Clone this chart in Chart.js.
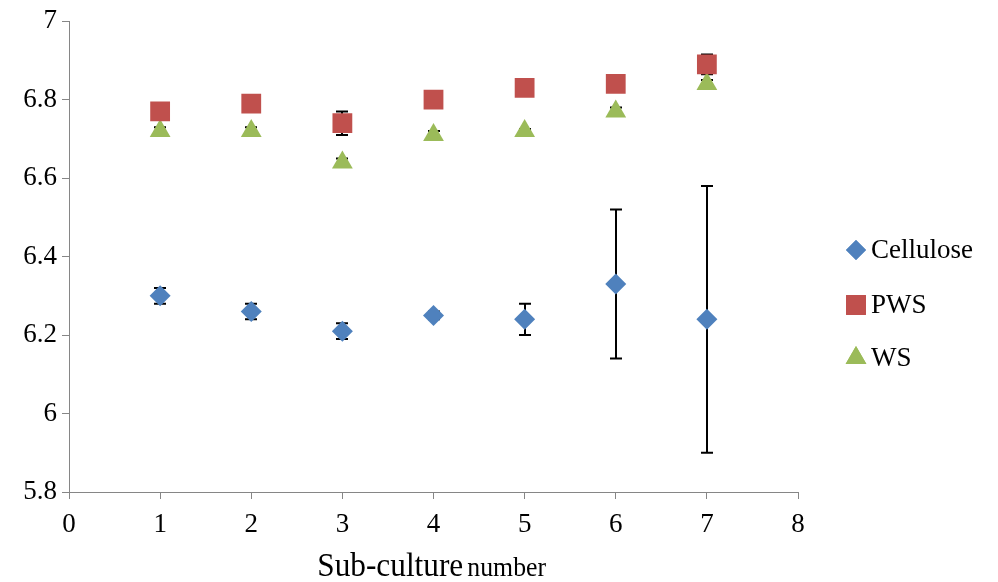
<!DOCTYPE html>
<html>
<head>
<meta charset="utf-8">
<title>pH by sub-culture</title>
<script src="https://cdn.jsdelivr.net/npm/chart.js"></script>
<style>
  html, body { margin: 0; padding: 0; background: #fff; }
  #wrap { width: 998px; height: 582px; }
</style>
</head>
<body>
<div id="wrap"><canvas id="c" width="998" height="582"></canvas></div>
<script>
// Sub-culture numbers (x) and mean values with their error half-widths
const subcultures = [1, 2, 3, 4, 5, 6, 7];
const cellulose = [6.30, 6.26, 6.21, 6.25, 6.24, 6.33, 6.24];
const celluloseErr = [0.02, 0.02, 0.02, 0.01, 0.04, 0.19, 0.34];
const pws = [6.77, 6.79, 6.74, 6.80, 6.83, 6.84, 6.89];
const pwsErr = [0.01, 0.01, 0.03, 0.01, 0.01, 0.01, 0.025];
const ws = [6.72, 6.72, 6.64, 6.71, 6.72, 6.77, 6.84];
const wsErr = [0.01, 0.01, 0.01, 0.01, 0.005, 0.01, 0.01];
const seriesNames = ['Cellulose', 'PWS', 'WS'];
const xTickValues = [0, 1, 2, 3, 4, 5, 6, 7, 8];
const yTickValues = [5.8, 6, 6.2, 6.4, 6.6, 6.8, 7];
const xTitleMain = 'Sub-culture';
const xTitleSub = 'number';

const AXIS_GREY = '#868686';
const SERIF = '"Liberation Serif", "Times New Roman", serif';

function points(ys, errs) {
  return subcultures.map((x, i) => ({ x: x, y: ys[i], err: errs[i] }));
}

// vertical error bars with caps, drawn underneath the markers
const errorBars = {
  id: 'errorBars',
  beforeDatasetsDraw(chart) {
    const ctx = chart.ctx;
    const xs = chart.scales.x, ys = chart.scales.y;
    ctx.save();
    ctx.strokeStyle = '#000';
    ctx.lineWidth = 2;
    chart.data.datasets.forEach(ds => {
      ds.data.forEach(p => {
        if (!p.err) return;
        const px = Math.round(xs.getPixelForValue(p.x));
        const top = ys.getPixelForValue(p.y + p.err);
        const bot = ys.getPixelForValue(p.y - p.err);
        ctx.beginPath();
        ctx.moveTo(px, top); ctx.lineTo(px, bot);
        ctx.moveTo(px - 6, top); ctx.lineTo(px + 6, top);
        ctx.moveTo(px - 6, bot); ctx.lineTo(px + 6, bot);
        ctx.stroke();
      });
    });
    ctx.restore();
  }
};

// legend on the right side with the series markers
const sideLegend = {
  id: 'sideLegend',
  afterDraw(chart) {
    const ctx = chart.ctx;
    const rows = [250, 305, 358];
    ctx.save();
    chart.data.datasets.forEach((ds, i) => {
      const y = rows[i];
      const opts = {
        pointStyle: ds.pointStyle,
        radius: ds.legendRadius,
        rotation: 0,
        borderWidth: 0
      };
      ctx.fillStyle = ds.backgroundColor;
      ctx.strokeStyle = ds.backgroundColor;
      Chart.helpers.drawPoint(ctx, opts, 856, y);
      ctx.fill();
      ctx.fillStyle = '#000';
      ctx.font = '27px ' + SERIF;
      ctx.textBaseline = 'middle';
      ctx.textAlign = 'left';
      ctx.fillText(ds.label, 871, y + 1);
    });
    ctx.restore();
  }
};

// x-axis title with a smaller trailing word
const xTitle = {
  id: 'xTitle',
  afterDraw(chart) {
    const ctx = chart.ctx;
    const cx = (chart.chartArea.left + chart.chartArea.right) / 2;
    const mainFont = '34px ' + SERIF;
    const subFont = '28px ' + SERIF;
    ctx.save();
    ctx.fillStyle = '#000';
    ctx.textBaseline = 'alphabetic';
    ctx.font = mainFont;
    const w1 = ctx.measureText(xTitleMain + ' ').width;
    ctx.font = subFont;
    const w2 = ctx.measureText(xTitleSub).width;
    const sx = 0.92;
    const total = (w1 + w2) * sx;
    ctx.translate(cx - total / 2, 576);
    ctx.scale(sx, 1);
    ctx.font = mainFont;
    ctx.fillText(xTitleMain + ' ', 0, 0);
    ctx.font = subFont;
    ctx.fillText(xTitleSub, w1 - 4, 0);
    ctx.restore();
  }
};

new Chart(document.getElementById('c'), {
  type: 'scatter',
  data: {
    datasets: [
      {
        label: seriesNames[0],
        data: points(cellulose, celluloseErr),
        pointStyle: 'rectRot',
        pointRadius: 10.5,
        legendRadius: 10,
        backgroundColor: '#4F81BD',
        borderColor: '#4F81BD',
        borderWidth: 0,
        pointHoverRadius: 10.5
      },
      {
        label: seriesNames[1],
        data: points(pws, pwsErr),
        pointStyle: 'rect',
        pointRadius: 14,
        legendRadius: 14,
        backgroundColor: '#C0504D',
        borderColor: '#C0504D',
        borderWidth: 0,
        pointHoverRadius: 14
      },
      {
        label: seriesNames[2],
        data: points(ws, wsErr),
        pointStyle: 'triangle',
        pointRadius: 12,
        legendRadius: 12,
        backgroundColor: '#9BBB59',
        borderColor: '#9BBB59',
        borderWidth: 0,
        pointHoverRadius: 12
      }
    ]
  },
  options: {
    responsive: false,
    animation: false,
    layout: { padding: { top: 20, right: 200, left: 0, bottom: 0 } },
    plugins: {
      legend: { display: false },
      tooltip: { enabled: false }
    },
    scales: {
      x: {
        type: 'linear',
        min: 0, max: 8,
        afterBuildTicks(scale) { scale.ticks = xTickValues.map(v => ({ value: v })); },
        afterFit(scale) { scale.height = 90; },
        border: { color: AXIS_GREY, width: 1 },
        grid: { drawOnChartArea: false, color: AXIS_GREY, tickLength: 7 },
        ticks: { color: '#000', font: { family: SERIF, size: 27 }, padding: 10, maxRotation: 0 }
      },
      y: {
        type: 'linear',
        min: 5.8, max: 7,
        afterBuildTicks(scale) { scale.ticks = yTickValues.map(v => ({ value: v })); },
        afterFit(scale) { scale.width = 69; },
        border: { color: AXIS_GREY, width: 1 },
        grid: { drawOnChartArea: false, color: AXIS_GREY, tickLength: 7 },
        ticks: {
          color: '#000', font: { family: SERIF, size: 27 }, padding: 5,
          callback: v => String(Math.round(v * 10) / 10)
        }
      }
    }
  },
  plugins: [errorBars, sideLegend, xTitle]
});
</script>
</body>
</html>
